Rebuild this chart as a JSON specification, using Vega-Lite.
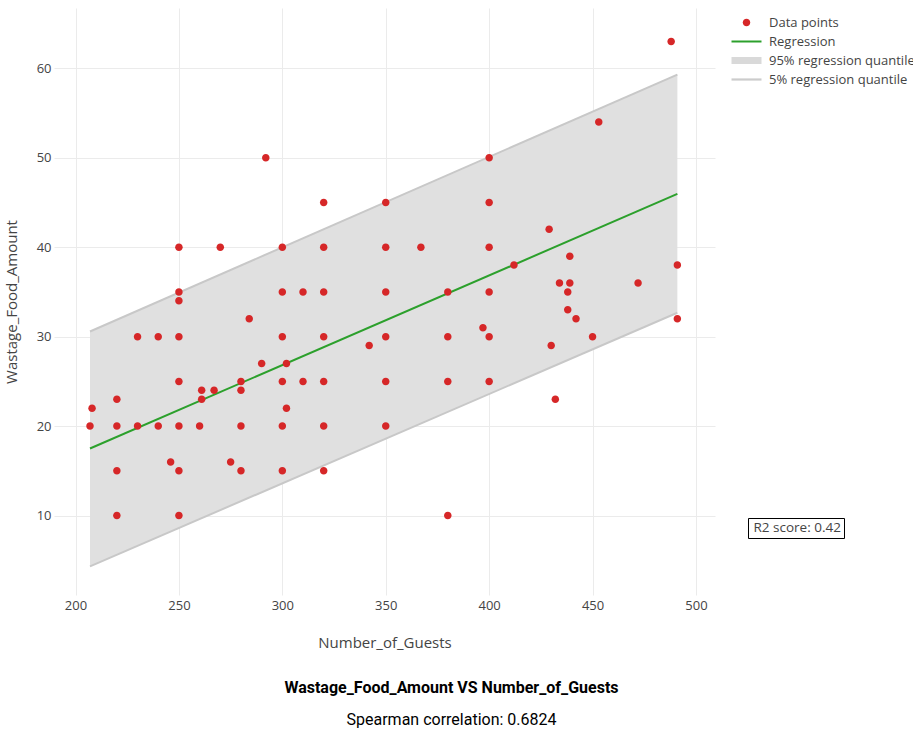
{
  "$schema": "https://vega.github.io/schema/vega-lite/v6.json",
  "width": 661,
  "height": 587,
  "autosize": "none",
  "padding": {"left": 54, "top": 8, "right": 198, "bottom": 136},
  "title": {
    "text": "Wastage_Food_Amount VS Number_of_Guests",
    "subtitle": "Spearman correlation: 0.6824",
    "orient": "bottom",
    "anchor": "middle",
    "frame": "group",
    "dx": 67,
    "offset": 30,
    "font": "Roboto",
    "fontSize": 16,
    "fontWeight": "bold",
    "color": "#000",
    "subtitleFont": "Roboto",
    "subtitleFontSize": 16,
    "subtitleColor": "#000",
    "subtitlePadding": 16
  },
  "datasets": {
    "points": [
      {"guests": 207, "wastage": 20}, {"guests": 208, "wastage": 22},
      {"guests": 220, "wastage": 23}, {"guests": 220, "wastage": 20}, {"guests": 220, "wastage": 15}, {"guests": 220, "wastage": 10},
      {"guests": 230, "wastage": 30}, {"guests": 230, "wastage": 20},
      {"guests": 240, "wastage": 30}, {"guests": 240, "wastage": 20},
      {"guests": 246, "wastage": 16},
      {"guests": 250, "wastage": 40}, {"guests": 250, "wastage": 35}, {"guests": 250, "wastage": 34}, {"guests": 250, "wastage": 30},
      {"guests": 250, "wastage": 25}, {"guests": 250, "wastage": 20}, {"guests": 250, "wastage": 15}, {"guests": 250, "wastage": 10},
      {"guests": 260, "wastage": 20}, {"guests": 261, "wastage": 24}, {"guests": 261, "wastage": 23},
      {"guests": 267, "wastage": 24}, {"guests": 270, "wastage": 40}, {"guests": 275, "wastage": 16},
      {"guests": 280, "wastage": 25}, {"guests": 280, "wastage": 24}, {"guests": 280, "wastage": 20}, {"guests": 280, "wastage": 15},
      {"guests": 284, "wastage": 32}, {"guests": 290, "wastage": 27}, {"guests": 292, "wastage": 50},
      {"guests": 300, "wastage": 40}, {"guests": 300, "wastage": 35}, {"guests": 300, "wastage": 30},
      {"guests": 300, "wastage": 25}, {"guests": 300, "wastage": 20}, {"guests": 300, "wastage": 15},
      {"guests": 302, "wastage": 27}, {"guests": 302, "wastage": 22},
      {"guests": 310, "wastage": 35}, {"guests": 310, "wastage": 25},
      {"guests": 320, "wastage": 45}, {"guests": 320, "wastage": 40}, {"guests": 320, "wastage": 35}, {"guests": 320, "wastage": 30},
      {"guests": 320, "wastage": 25}, {"guests": 320, "wastage": 20}, {"guests": 320, "wastage": 15},
      {"guests": 342, "wastage": 29},
      {"guests": 350, "wastage": 45}, {"guests": 350, "wastage": 40}, {"guests": 350, "wastage": 35},
      {"guests": 350, "wastage": 30}, {"guests": 350, "wastage": 25}, {"guests": 350, "wastage": 20},
      {"guests": 367, "wastage": 40},
      {"guests": 380, "wastage": 35}, {"guests": 380, "wastage": 30}, {"guests": 380, "wastage": 25}, {"guests": 380, "wastage": 10},
      {"guests": 397, "wastage": 31},
      {"guests": 400, "wastage": 50}, {"guests": 400, "wastage": 45}, {"guests": 400, "wastage": 40},
      {"guests": 400, "wastage": 35}, {"guests": 400, "wastage": 30}, {"guests": 400, "wastage": 25},
      {"guests": 412, "wastage": 38}, {"guests": 429, "wastage": 42}, {"guests": 430, "wastage": 29},
      {"guests": 432, "wastage": 23}, {"guests": 434, "wastage": 36},
      {"guests": 438, "wastage": 35}, {"guests": 438, "wastage": 33},
      {"guests": 439, "wastage": 39}, {"guests": 439, "wastage": 36},
      {"guests": 442, "wastage": 32}, {"guests": 450, "wastage": 30}, {"guests": 453, "wastage": 54},
      {"guests": 472, "wastage": 36}, {"guests": 488, "wastage": 63},
      {"guests": 491, "wastage": 38}, {"guests": 491, "wastage": 32}
    ],
    "fit": [
      {"guests": 207, "fit": 17.5, "q05": 4.32, "q95": 30.58},
      {"guests": 491, "fit": 45.96, "q05": 32.67, "q95": 59.3}
    ]
  },
  "encoding": {
    "x": {
      "field": "guests",
      "type": "quantitative",
      "title": "Number_of_Guests",
      "scale": {"domain": [189.6, 509.2], "nice": false, "zero": false},
      "axis": {"values": [200, 250, 300, 350, 400, 450, 500], "titlePadding": 23, "labelPadding": 4}
    }
  },
  "layer": [
    {
      "data": {"name": "fit"},
      "mark": {"type": "area", "color": "#e0e0e0", "opacity": 1},
      "encoding": {
        "y": {
          "field": "q05",
          "type": "quantitative",
          "title": "Wastage_Food_Amount",
          "scale": {"domain": [1.12, 66.74], "nice": false, "zero": false},
          "axis": {"values": [10, 20, 30, 40, 50, 60], "titlePadding": 17, "labelPadding": 3}
        },
        "y2": {"field": "q95"}
      }
    },
    {
      "data": {"name": "fit"},
      "mark": {"type": "line", "color": "#c8c8c8", "strokeWidth": 2},
      "encoding": {"y": {"field": "q95", "type": "quantitative"}}
    },
    {
      "data": {"name": "fit"},
      "mark": {"type": "line", "color": "#c8c8c8", "strokeWidth": 2},
      "encoding": {"y": {"field": "q05", "type": "quantitative"}}
    },
    {
      "data": {"name": "fit"},
      "mark": {"type": "line", "color": "#2ca02c", "strokeWidth": 2},
      "encoding": {
        "y": {"field": "fit", "type": "quantitative"},
        "opacity": {
          "datum": "R2 score: 0.42",
          "type": "ordinal",
          "scale": {"type": "ordinal", "range": [1]},
          "legend": {
            "title": null,
            "orient": "none",
            "legendX": 694,
            "legendY": 510,
            "padding": 3,
            "strokeColor": "#000",
            "symbolSize": 0,
            "symbolOpacity": 0,
            "symbolStrokeWidth": 0,
            "labelOffset": -11,
            "labelFontSize": 13.5
          }
        }
      }
    },
    {
      "data": {"name": "points"},
      "transform": [{"calculate": "'Data points'", "as": "series"}],
      "mark": {"type": "point", "filled": true, "size": 100, "opacity": 1},
      "encoding": {
        "y": {"field": "wastage", "type": "quantitative"},
        "color": {
          "field": "series",
          "type": "nominal",
          "scale": {
            "domain": ["Data points", "Regression", "95% regression quantile", "5% regression quantile"],
            "range": ["#d62728", "#2ca02c", "#d9d9d9", "#cccccc"]
          },
          "legend": {
            "title": null,
            "orient": "none",
            "legendX": 686,
            "legendY": 8,
            "padding": 0,
            "labelOffset": 16,
            "rowPadding": 5,
            "labelLimit": 300
          }
        },
        "shape": {
          "field": "series",
          "type": "nominal",
          "scale": {
            "domain": ["Data points", "Regression", "95% regression quantile", "5% regression quantile"],
            "range": [
              "M-0.75,0A0.75,0.75 0 1,0 0.75,0A0.75,0.75 0 1,0 -0.75,0Z",
              "M-3,-0.2H3V0.2H-3Z",
              "M-3,-0.7H3V0.7H-3Z",
              "M-3,-0.22H3V0.22H-3Z"
            ]
          },
          "legend": {
            "title": null,
            "orient": "none",
            "legendX": 686,
            "legendY": 8,
            "padding": 0,
            "labelOffset": 16,
            "rowPadding": 5,
            "labelLimit": 300
          }
        }
      }
    }
  ],
  "config": {
    "view": {"stroke": null},
    "font": "Open Sans",
    "axis": {
      "grid": true,
      "gridColor": "#ebebeb",
      "gridWidth": 1,
      "domain": false,
      "ticks": false,
      "labelFont": "Open Sans",
      "labelFontSize": 13,
      "labelColor": "#444",
      "titleFont": "Open Sans",
      "titleFontSize": 15,
      "titleFontWeight": "normal",
      "titleColor": "#444"
    },
    "legend": {
      "labelFont": "Open Sans",
      "labelFontSize": 13,
      "labelColor": "#444",
      "symbolSize": 100,
      "symbolStrokeWidth": 0
    }
  }
}
